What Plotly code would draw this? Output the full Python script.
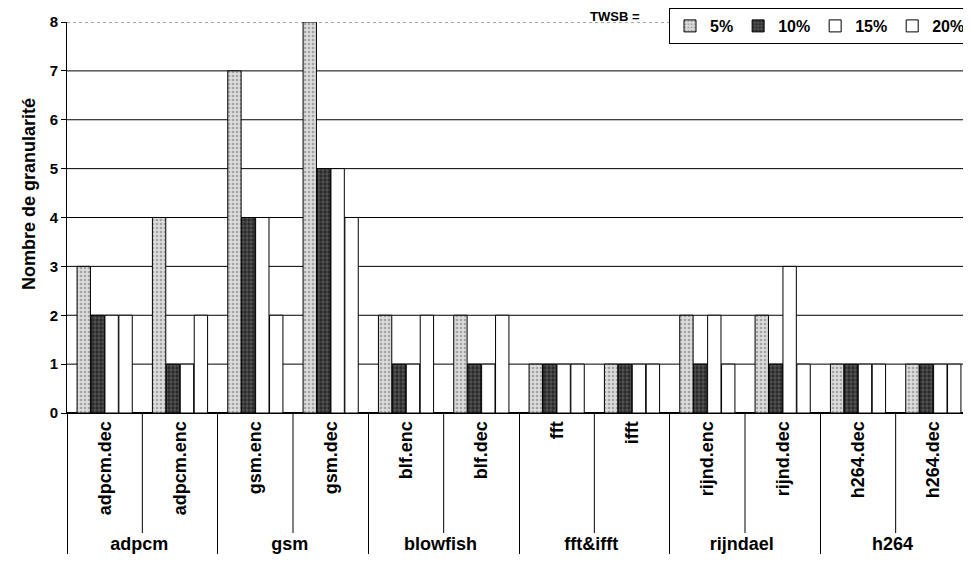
import plotly.graph_objects as go

groups = ["adpcm", "adpcm", "gsm", "gsm", "blowfish", "blowfish",
          "fft&ifft", "fft&ifft", "rijndael", "rijndael", "h264", "h264"]
benchmarks = ["adpcm.dec", "adpcm.enc", "gsm.enc", "gsm.dec", "blf.enc", "blf.dec",
              "fft", "ifft", "rijnd.enc", "rijnd.dec", "h264.dec", "h264.dec\u200b"]

series_names = ["5%", "10%", "15%", "20%"]
v5 = [3, 4, 7, 8, 2, 2, 1, 1, 2, 2, 1, 1]
v10 = [2, 1, 4, 5, 1, 1, 1, 1, 1, 1, 1, 1]
v15 = [2, 1, 4, 5, 1, 1, 1, 1, 2, 3, 1, 1]
v20 = [2, 2, 2, 4, 2, 2, 1, 1, 1, 1, 1, 1]
y_ticks = [0, 1, 2, 3, 4, 5, 6, 7, 8]

fills = ["#bdbdbd", "#2a2a2a", "#ffffff", "#ffffff"]
patterns = [dict(shape=".", fgcolor="#6a6a6a", bgcolor="#dcdcdc", size=4, solidity=0.35),
            dict(shape=".", fgcolor="#000000", bgcolor="#555555", size=4, solidity=0.55),
            None, None]

FONT = "Liberation Sans, Arial, sans-serif"

# the page adds an 8px body margin: figure is 963x564, placed at (8, 8)
W, H = 963, 564
L, T, B = 59, 14, 159
PW, PH = W - L, H - T - B

fig = go.Figure()
for name, vals, col, pat in zip(series_names, [v5, v10, v15, v20], fills, patterns):
    marker = dict(color=col, line=dict(color="black", width=1))
    if pat is not None:
        marker["pattern"] = pat
    fig.add_trace(go.Bar(name=name, x=[groups, benchmarks], y=vals, marker=marker))

# horizontal gridlines (top one dotted), drawn beneath the bars
for t in y_ticks[1:]:
    top = t == y_ticks[-1]
    fig.add_shape(type="line", xref="paper", yref="y", x0=0, x1=1, y0=t, y1=t, layer="below",
                  line=dict(color="#555555" if top else "black", width=1, dash="dot" if top else "solid"))

# inner category separators (below the axis)
for k in [0.5, 2.5, 4.5, 6.5, 8.5, 10.5]:
    fig.add_shape(type="line", xref="x", yref="paper", x0=k, x1=k, y0=0, y1=-120 / PH,
                  line=dict(color="black", width=1))

fig.add_annotation(text="TWSB =", xref="paper", yref="paper", yanchor="middle", xanchor="center",
                   x=(607 - L) / PW, y=1 + (T - 9) / PH, showarrow=False,
                   font=dict(family=FONT, size=13, color="black", weight="bold"))

fig.add_annotation(text="Nombre de granularité", xref="paper", yref="paper", textangle=-90,
                   x=(9 - L) / PW, y=1 - (186 - T) / PH, showarrow=False,
                   font=dict(family=FONT, size=18, color="black", weight="bold"))

fig.update_layout(
    width=W, height=H,
    margin=dict(l=L, r=0, t=T, b=B),
    paper_bgcolor="white", plot_bgcolor="white",
    barmode="group", bargap=0.26, bargroupgap=0.04,
    font=dict(family=FONT, color="black", size=14, weight="bold"),
    legend=dict(orientation="h", x=1.0, xanchor="right", y=1 + T / PH, yanchor="top",
                bordercolor="black", borderwidth=1, bgcolor="white",
                font=dict(family=FONT, size=16, color="black", weight="bold"),
                itemwidth=30, tracegroupgap=0),
    showlegend=True,
)
fig.update_xaxes(
    type="multicategory", tickangle=-90, automargin=False,
    tickfont=dict(family=FONT, size=18, color="black", weight="bold"),
    showdividers=True, dividercolor="black", dividerwidth=1,
    showline=True, linecolor="black", linewidth=1, ticks="",
    showgrid=False,
)
fig.update_yaxes(
    range=[0, 8], tickvals=y_ticks,
    showgrid=False,
    showline=True, linecolor="black", linewidth=1,
    ticks="outside", ticklen=5, tickcolor="black",
    zeroline=True, zerolinecolor="black",
    tickfont=dict(family=FONT, size=15, color="black", weight="bold"),
    automargin=False,
)
fig.write_html("out.html")
